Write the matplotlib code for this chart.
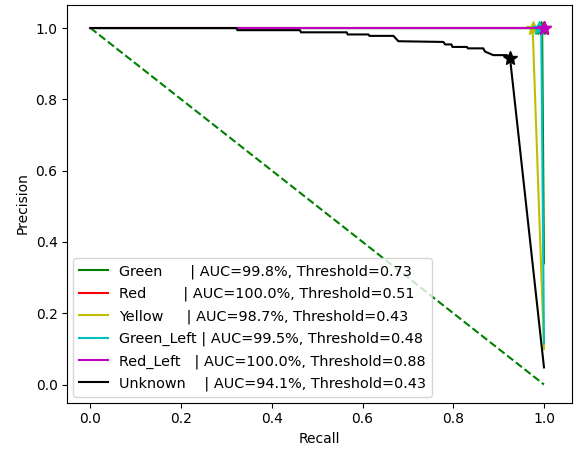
import matplotlib
matplotlib.use("Agg")
import matplotlib.pyplot as plt

names = ["Green", "Red", "Yellow", "Green_Left", "Red_Left", "Unknown"]
colors = ["g", "r", "y", "c", "m", "k"]
aucs = [99.8, 100.0, 98.7, 99.5, 100.0, 94.1]
thresholds = [0.73, 0.51, 0.43, 0.48, 0.88, 0.43]

recall_green = [0.0, 0.993, 0.996, 1.0]
precision_green = [1.0, 1.0, 0.99, 0.34]
recall_red = [0.0, 1.0]
precision_red = [1.0, 1.0]
recall_yellow = [0.0, 0.975, 1.0]
precision_yellow = [1.0, 1.0, 0.10]
recall_gleft = [0.0, 0.988, 0.994, 1.0]
precision_gleft = [1.0, 1.0, 0.99, 0.115]
recall_rleft = [0.0, 1.0]
precision_rleft = [1.0, 1.0]
recall_unknown = [0.0, 0.322, 0.324, 0.462, 0.464, 0.565, 0.567, 0.613, 0.615,
                  0.668, 0.679, 0.778, 0.782, 0.796, 0.798, 0.830, 0.832, 0.866,
                  0.870, 0.888, 0.918, 0.925, 1.0]
precision_unknown = [1.0, 1.0, 0.994, 0.994, 0.988, 0.988, 0.982, 0.982, 0.978,
                     0.978, 0.963, 0.961, 0.954, 0.954, 0.947, 0.947, 0.943, 0.943,
                     0.934, 0.924, 0.924, 0.917, 0.048]

best_recall = [0.993, 1.0, 0.975, 0.988, 1.0, 0.925]
best_precision = [1.0, 1.0, 1.0, 1.0, 1.0, 0.917]

recalls = [recall_green, recall_red, recall_yellow, recall_gleft, recall_rleft, recall_unknown]
precisions = [precision_green, precision_red, precision_yellow, precision_gleft, precision_rleft, precision_unknown]

fig = plt.figure(figsize=(5.79, 4.51), dpi=100)
ax = fig.add_subplot(111)
fig.subplots_adjust(left=0.1162, right=0.9884, top=0.990, bottom=0.1075)

ax.plot([0, 1], [1, 0], "g--")
for i in range(len(names)):
    label = f"{names[i]:<11}| AUC={aucs[i]:.1f}%, Threshold={thresholds[i]:.2f}"
    ax.plot(recalls[i], precisions[i], colors[i], label=label)
    ax.plot(best_recall[i], best_precision[i], "*", color=colors[i], markersize=10)

ax.set_xlim(-0.0512, 1.0624)
ax.set_ylim(-0.0505, 1.066)
ax.set_xlabel("Recall")
ax.set_ylabel("Precision")
ax.legend(loc="lower left", fontsize=10.4, labelspacing=0.55, borderaxespad=0.4)
fig.savefig("out.png", dpi=100)
